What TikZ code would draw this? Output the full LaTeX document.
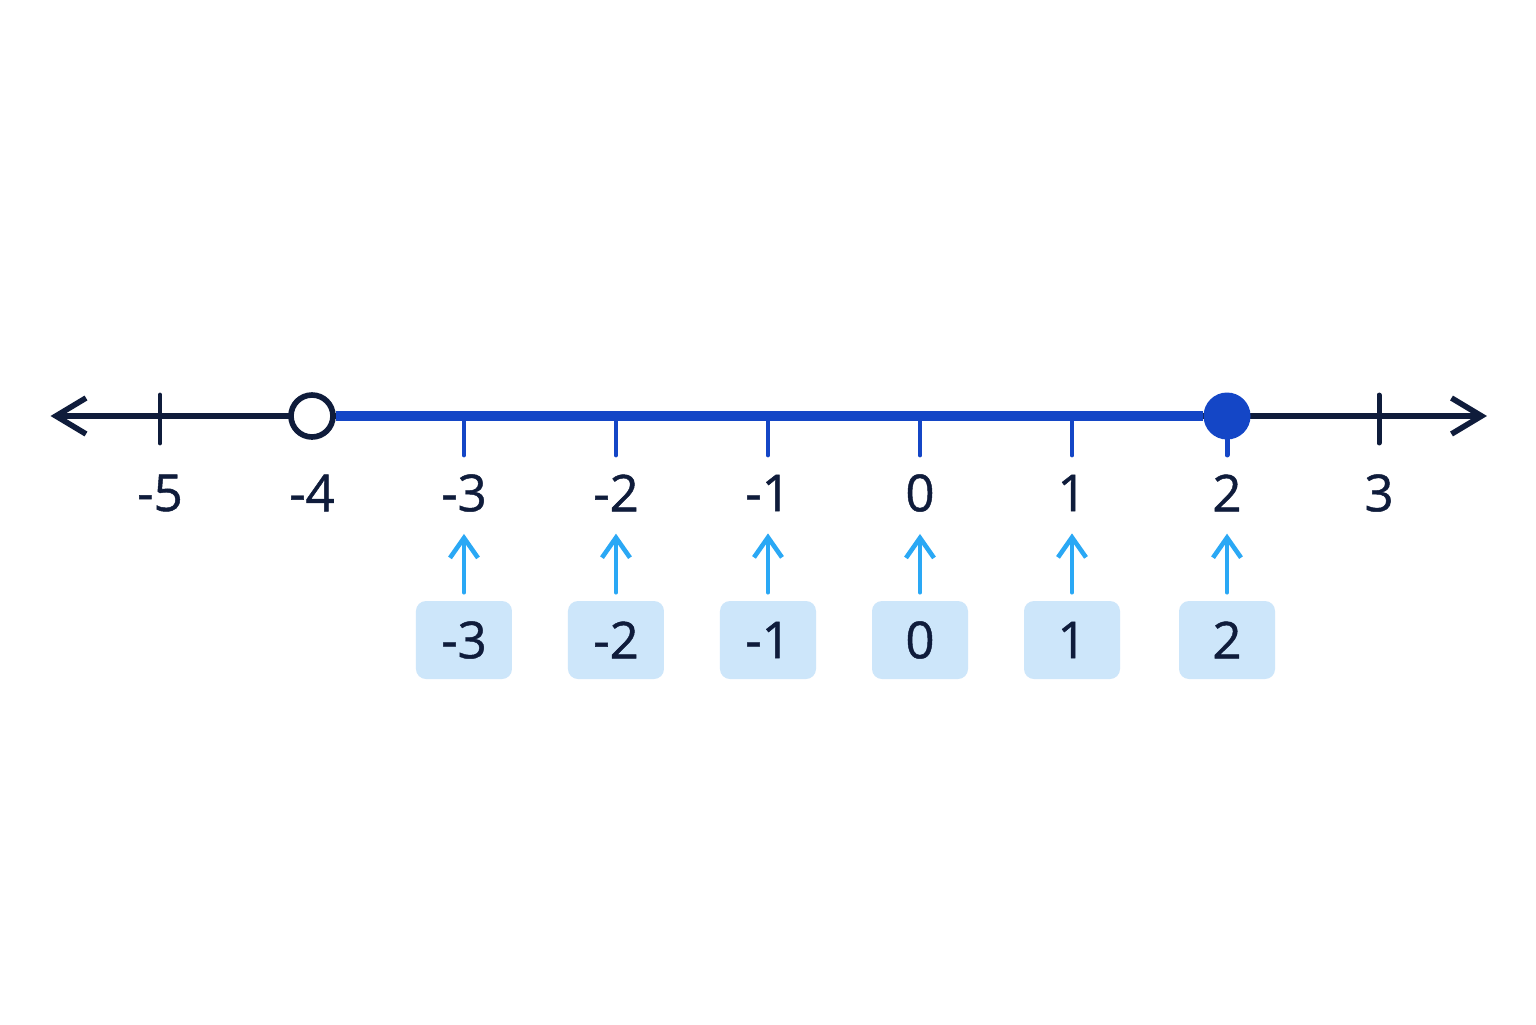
\documentclass[tikz,border=0pt]{standalone}
\usepackage{fontspec}
\setmainfont{Open Sans}
\newfontfamily\numfont{Open Sans}[FakeBold=0.9]
\usetikzlibrary{arrows.meta}
\definecolor{navy}{HTML}{0F1C3B}
\definecolor{solblue}{HTML}{1446C6}
\definecolor{skyarrow}{HTML}{2AA8F5}
\definecolor{boxfill}{HTML}{CDE6FA}
\tikzset{
  num/.style={text=navy, font=\numfont\fontsize{14.5}{16}\selectfont, inner sep=1pt},
  valbox/.style={num, fill=boxfill, rounded corners=0.1cm, minimum width=0.96cm, minimum height=0.78cm},
  pointer/.style={-{Straight Barb[length=2mm,width=2.8mm]}, skyarrow, line width=1.3pt, line cap=round, shorten <=0.08cm, shorten >=0.18cm},
  bigtick/.style={navy, line width=1.4pt, line cap=round},
  smalltick/.style={solblue, line width=1.4pt, line cap=round},
  opendot/.style={circle, draw=navy, fill=white, line width=1.6pt, minimum size=0.42cm, inner sep=0pt},
  fulldot/.style={circle, fill=solblue, minimum size=0.47cm, inner sep=0pt},
}
\begin{document}
\begin{tikzpicture}[x=1.52cm, y=1cm]
        \useasboundingbox[fill=white] (-6.0526,-6.08) rectangle (4.0526,4.16);
        \coordinate (lend) at (-5.72,0);
        \coordinate (rend) at (3.73,0);
        \draw[{Straight Barb[length=3mm,width=3.6mm]}-{Straight Barb[length=3mm,width=3.6mm]}, navy, line width=1.6pt, line join=round, line cap=round] (lend)--(rend);
        \draw[bigtick] (-5,0.21)--(-5,-0.27);
        \draw[bigtick] (3.02,0.21)--(3.02,-0.27);
        \draw[smalltick] (-3,0)--(-3,-0.39);
        \draw[smalltick] (-2,0)--(-2,-0.39);
        \draw[smalltick] (-1,0)--(-1,-0.39);
        \draw[smalltick] (0,0)--(0,-0.39);
        \draw[smalltick] (1,0)--(1,-0.39);
        \draw[smalltick] (2.02,0)--(2.02,-0.39);
        \node[opendot] (lo) at (-4,0) {};
        \node[fulldot] (hi) at (2.02,0) {};
        \draw[solblue, line width=2.6pt] (lo)--(hi);
        % numbers on the line
        \node[num] (lm5) at (-5,-0.77) {-5};
        \node[num] (lm4) at (-4,-0.77) {-4};
        \node[num] (lm3) at (-3,-0.77) {-3};
        \node[num] (lm2) at (-2,-0.77) {-2};
        \node[num] (lm1) at (-1,-0.77) {-1};
        \node[num] (l0) at (0,-0.77) {0};
        \node[num] (l1) at (1,-0.77) {1};
        \node[num] (l2) at (2.02,-0.77) {2};
        \node[num] (l3) at (3.02,-0.77) {3};
        % the integers in the set
        \node[valbox] (bm3) at (-3,-2.24) {-3};
        \node[valbox] (bm2) at (-2,-2.24) {-2};
        \node[valbox] (bm1) at (-1,-2.24) {-1};
        \node[valbox] (b0) at (0,-2.24) {0};
        \node[valbox] (b1) at (1,-2.24) {1};
        \node[valbox] (b2) at (2.02,-2.24) {2};
        \draw[pointer] (bm3.north)--(lm3.south);
        \draw[pointer] (bm2.north)--(lm2.south);
        \draw[pointer] (bm1.north)--(lm1.south);
        \draw[pointer] (b0.north)--(l0.south);
        \draw[pointer] (b1.north)--(l1.south);
        \draw[pointer] (b2.north)--(l2.south);
    \end{tikzpicture}
\end{document}
